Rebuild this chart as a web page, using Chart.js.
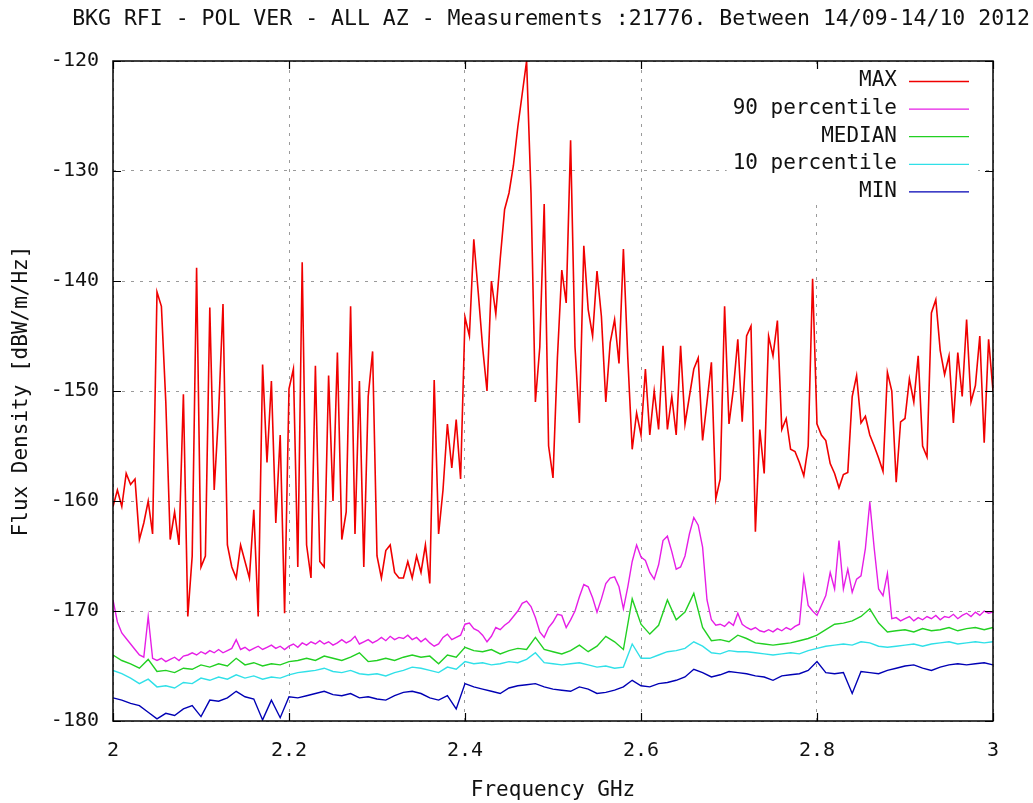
<!DOCTYPE html>
<html>
<head>
<meta charset="utf-8">
<title>BKG RFI - POL VER</title>
<script src="https://cdn.jsdelivr.net/npm/chart.js@4.4.1/dist/chart.umd.min.js"></script>
<style>
  html, body { margin: 0; padding: 0; background: #fff; }
  canvas { display: block; }
</style>
</head>
<body>
<canvas id="rfi" width="1033" height="803"></canvas>
<script>
// spectrum sampled every 5 MHz (MAX, 90 percentile) and every 10 MHz (the rest)
const FINE_START = 2.0, FINE_STEP = 0.005;
const COARSE_START = 2.0, COARSE_STEP = 0.01;

const TITLE = 'BKG RFI - POL VER - ALL AZ - Measurements :21776. Between 14/09-14/10 2012';
const X_LABEL = 'Frequency GHz';
const Y_LABEL = 'Flux Density [dBW/m/Hz]';
const SERIES = ['MAX', '90 percentile', 'MEDIAN', '10 percentile', 'MIN'];
const COLORS = ['#f00000', '#e61ee6', '#22d022', '#30e0e8', '#0000b4'];
const WIDTHS = [1.6, 1.4, 1.4, 1.4, 1.4];
const X_TICKS = [2, 2.2, 2.4, 2.6, 2.8, 3];
const Y_TICKS = [-180, -170, -160, -150, -140, -130, -120];

const maxVals = [
  -160.5, -159, -160.5, -157.5, -158.5, -158, -163.5, -162, -160, -163,
  -141, -142.3, -151, -163.5, -161, -164, -150.3, -170.5, -165, -138.8,
  -166, -165, -142.4, -159, -152, -142.1, -164, -166, -167, -164,
  -165.5, -167, -160.8, -170.5, -147.6, -156.5, -149.1, -162, -154, -170.2,
  -149.8, -148, -166, -138.3, -164, -167, -147.7, -165.5, -166, -148.6,
  -160, -146.5, -163.5, -161, -142.3, -163, -149.1, -166, -150.5, -146.4,
  -165, -167, -164.5, -164, -166.5, -167, -167, -165.5, -167, -165,
  -166.5, -164, -167.5, -149, -163, -159, -153, -157, -152.6, -158,
  -143.3, -145, -136.2, -141, -146, -150, -140, -143, -138, -133.5,
  -132, -129.5, -126, -123, -120, -132, -151, -146, -133, -155,
  -157.9, -147, -139, -142, -127.2, -146, -152.9, -136.8, -142.6, -145,
  -139.1, -143.2, -151, -145.6, -143.5, -147.5, -137.1, -147, -155.3, -152,
  -154, -148, -154, -150, -153.5, -145.9, -153.5, -150.5, -154, -145.9,
  -153, -150.5, -148, -147, -154.5, -151, -147.4, -159.8, -158, -142.3,
  -153, -149.8, -145.3, -152.8, -145, -144.1, -162.8, -153.5, -157.5, -145,
  -146.8, -143.6, -153.5, -152.5, -155.3, -155.5, -156.5, -157.7, -155, -139.8,
  -153, -154, -154.5, -156.6, -157.5, -158.8, -157.6, -157.4, -150.5, -148.6,
  -152.9, -152.3, -154, -155, -156.1, -157.3, -148.3, -150, -158.3, -152.8,
  -152.5, -148.9, -151, -146.8, -155, -156, -142.9, -141.7, -146.3, -148.5,
  -146.8, -152.9, -146.5, -150.5, -143.5, -151, -149.5, -145, -154.7, -145.3,
  -150
];

const p90Vals = [
  -169, -171, -172, -172.5, -173, -173.5, -174, -174.2, -170.5, -174.3,
  -174.5, -174.3, -174.6, -174.4, -174.2, -174.5, -174.1, -174, -173.8, -174,
  -173.7, -173.9, -173.6, -173.8, -173.5, -173.8, -173.6, -173.4, -172.6, -173.5,
  -173.3, -173.6, -173.4, -173.2, -173.5, -173.3, -173.1, -173.4, -173.2, -173.5,
  -173.2, -173, -173.3, -172.9, -173.1, -172.8, -173, -172.7, -173, -172.8,
  -173.1, -172.9, -172.6, -172.9, -172.7, -172.3, -173, -172.8, -172.6, -172.9,
  -172.7, -172.4, -172.7, -172.3, -172.6, -172.4, -172.5, -172.2, -172.6, -172.4,
  -172.8, -172.5, -172.9, -173.2, -173, -172.4, -172.1, -172.6, -172.4, -172.2,
  -171.2, -171.1, -171.6, -171.8, -172.2, -172.8, -172.3, -171.5, -171.7, -171.3,
  -171, -170.5, -170, -169.3, -169.1, -169.6, -170.6, -171.9, -172.4, -171.5,
  -171, -170.3, -170.4, -171.5, -170.8, -170, -168.7, -167.6, -167.8, -168.8,
  -170.1, -168.9, -167.5, -167, -166.9, -167.8, -169.8, -167.8, -165.5, -164,
  -165.1, -165.4, -166.5, -167.1, -165.8, -163.6, -163.2, -164.6, -166.2, -166,
  -165, -163, -161.5, -162.2, -164.2, -169, -170.8, -171.3, -171.2, -171.4,
  -171, -171.3, -170.2, -171.2, -171.5, -171.7, -171.5, -171.8, -171.9, -171.7,
  -171.9, -171.6, -171.8, -171.5, -171.7, -171.4, -171.2, -166.9, -169.5, -170,
  -170.4, -169.5, -168.6, -166.5, -168, -163.6, -168, -166.2, -168.3, -167.1,
  -166.8, -164.3, -160.1, -164.3, -168, -168.6, -166.6, -170.7, -170.6, -170.9,
  -170.7, -170.5, -170.9, -170.6, -170.8, -170.5, -170.7, -170.4, -170.8, -170.5,
  -170.6, -170.3, -170.7, -170.4, -170.2, -170.5, -170.1, -170.4, -170, -170.2,
  -170.1
];

const medianVals = [
  -174.0, -174.5, -174.8, -175.2, -174.4, -175.5, -175.4, -175.6, -175.2, -175.3,
  -174.9, -175.1, -174.8, -175.0, -174.3, -174.9, -174.7, -175.0, -174.8, -174.9,
  -174.6, -174.5, -174.3, -174.5, -174.1, -174.3, -174.5, -174.2, -173.8, -174.6,
  -174.5, -174.3, -174.5, -174.2, -174.0, -174.2, -174.1, -174.8, -174.0, -174.2,
  -173.3, -173.6, -173.7, -173.5, -173.9, -173.6, -173.4, -173.5, -172.4, -173.5,
  -173.7, -173.9, -173.6, -173.1, -173.7, -173.2, -172.3, -172.8, -173.5, -168.9,
  -171.2, -172.1, -171.3, -169.0, -170.8, -170.1, -168.4, -171.5, -172.7, -172.6,
  -172.8, -172.2, -172.5, -172.9, -173.0, -173.1, -173.0, -172.9, -172.7, -172.5,
  -172.2, -171.7, -171.2, -171.1, -170.9, -170.5, -169.8, -171.1, -171.9, -171.8,
  -171.7, -171.9, -171.6, -171.8, -171.7, -171.5, -171.8, -171.6, -171.5, -171.7,
  -171.5
];

const p10Vals = [
  -175.4, -175.7, -176.1, -176.6, -176.2, -176.9, -176.8, -177.0, -176.5, -176.6,
  -176.1, -176.3, -176.0, -176.2, -175.8, -176.1, -175.9, -176.2, -176.0, -176.1,
  -175.8, -175.6, -175.5, -175.4, -175.2, -175.5, -175.6, -175.4, -175.7, -175.8,
  -175.7, -175.9, -175.6, -175.4, -175.1, -175.2, -175.4, -175.6, -175.1, -175.3,
  -174.6, -174.8, -174.7, -174.9, -174.8, -174.6, -174.7, -174.4, -173.8, -174.7,
  -174.8, -174.9, -174.8, -174.7, -174.9, -175.1, -175.0, -175.2, -175.1, -173.0,
  -174.3, -174.3, -174.0, -173.7, -173.6, -173.4, -172.8, -173.2, -173.8, -173.9,
  -173.6, -173.7, -173.7, -173.8, -173.9, -174.0, -173.9, -173.8, -173.9, -173.6,
  -173.4, -173.2, -173.1, -173.0, -173.1, -172.8, -172.9, -173.2, -173.3, -173.2,
  -173.1, -173.0, -173.2, -173.0, -172.9, -172.8, -173.0, -172.9, -172.8, -172.9,
  -172.8
];

const minVals = [
  -177.9, -178.1, -178.4, -178.6, -179.2, -179.8, -179.3, -179.5, -178.9, -178.6,
  -179.6, -178.1, -178.2, -177.9, -177.3, -177.8, -178.0, -179.9, -178.1, -179.7,
  -177.8, -177.9, -177.7, -177.5, -177.3, -177.6, -177.7, -177.5, -177.9, -177.8,
  -178.0, -178.1, -177.7, -177.4, -177.3, -177.5, -177.9, -178.1, -177.7, -178.9,
  -176.6, -176.9, -177.1, -177.3, -177.5, -177.0, -176.8, -176.7, -176.6, -176.9,
  -177.1, -177.2, -177.3, -176.9, -177.1, -177.5, -177.4, -177.2, -176.9, -176.3,
  -176.8, -176.9, -176.6, -176.5, -176.3, -176.0, -175.3, -175.6, -176.0, -175.8,
  -175.5, -175.6, -175.7, -175.9, -176.0, -176.3, -175.9, -175.8, -175.7, -175.4,
  -174.6, -175.6, -175.7, -175.6, -177.5, -175.5, -175.6, -175.7, -175.4, -175.2,
  -175.0, -174.9, -175.2, -175.4, -175.1, -174.9, -174.8, -174.9, -174.8, -174.7,
  -174.9
];

const FONT_FAMILY = '"DejaVu Sans Mono", "Liberation Mono", monospace';
const TEXT = '#111';

function toPoints(vals, start, step) {
  return vals.map((v, i) => ({ x: +(start + i * step).toFixed(3), y: v }));
}

const seriesData = [
  toPoints(maxVals, FINE_START, FINE_STEP),
  toPoints(p90Vals, FINE_START, FINE_STEP),
  toPoints(medianVals, COARSE_START, COARSE_STEP),
  toPoints(p10Vals, COARSE_START, COARSE_STEP),
  toPoints(minVals, COARSE_START, COARSE_STEP)
];

// gnuplot style: title, opaque key box, black border with inward ticks
const gnuplotFrame = {
  id: 'gnuplotFrame',
  afterDatasetsDraw(chart) {
    const { ctx, chartArea: a, scales } = chart;
    ctx.save();

    // title
    ctx.font = '21.5px ' + FONT_FAMILY;
    ctx.fillStyle = TEXT;
    ctx.textAlign = 'right';
    ctx.textBaseline = 'middle';
    ctx.fillText(TITLE, 1030, 19);

    // key
    ctx.font = '21px ' + FONT_FAMILY;
    const textRight = 897, lineX0 = 909, lineX1 = 969, rowTop = 81, rowStep = 27.6;
    let w = 0;
    chart.data.datasets.forEach(d => { w = Math.max(w, ctx.measureText(d.label).width); });
    const boxLeft = textRight - w - 6;
    ctx.fillStyle = '#fff';
    ctx.fillRect(boxLeft, rowTop - 13, lineX1 + 9 - boxLeft, rowStep * 4 + 26);
    chart.data.datasets.forEach((d, i) => {
      const yy = rowTop + i * rowStep;
      ctx.fillStyle = TEXT;
      ctx.textAlign = 'right';
      ctx.fillText(d.label, textRight, yy);
      ctx.strokeStyle = d.borderColor;
      ctx.lineWidth = 1.3;
      ctx.beginPath();
      ctx.moveTo(lineX0, yy + 0.5);
      ctx.lineTo(lineX1, yy + 0.5);
      ctx.stroke();
    });

    // border
    ctx.strokeStyle = '#000';
    ctx.lineWidth = 1.5;
    ctx.strokeRect(a.left, a.top, a.right - a.left, a.bottom - a.top);

    // inward ticks on all four sides
    const tl = 8;
    ctx.lineWidth = 1.2;
    ctx.beginPath();
    X_TICKS.forEach(t => {
      const px = Math.round(scales.x.getPixelForValue(t)) + 0.5;
      ctx.moveTo(px, a.bottom); ctx.lineTo(px, a.bottom - tl);
      ctx.moveTo(px, a.top); ctx.lineTo(px, a.top + tl);
    });
    Y_TICKS.forEach(t => {
      const py = Math.round(scales.y.getPixelForValue(t)) + 0.5;
      ctx.moveTo(a.left, py); ctx.lineTo(a.left + tl, py);
      ctx.moveTo(a.right, py); ctx.lineTo(a.right - tl, py);
    });
    ctx.stroke();
    ctx.restore();
  }
};

new Chart(document.getElementById('rfi'), {
  type: 'line',
  data: {
    datasets: SERIES.map((name, i) => ({
      label: name,
      data: seriesData[i],
      borderColor: COLORS[i],
      backgroundColor: COLORS[i],
      borderWidth: WIDTHS[i],
      pointRadius: 0,
      tension: 0,
      fill: false
    }))
  },
  options: {
    responsive: false,
    animation: false,
    layout: { padding: { top: 61, right: 40, left: 0, bottom: 0 } },
    plugins: {
      legend: { display: false },
      title: { display: false },
      tooltip: { enabled: false }
    },
    scales: {
      x: {
        type: 'linear',
        min: 2,
        max: 3,
        afterFit: s => { s.height = 82; },
        ticks: {
          stepSize: 0.2,
          padding: 18,
          color: TEXT,
          font: { family: FONT_FAMILY, size: 20 },
          maxRotation: 0,
          callback: v => String(+v.toFixed(1))
        },
        grid: { color: '#9a9a9a', lineWidth: 1, drawTicks: false },
        border: { display: false, dash: [3, 6] },
        title: {
          display: true,
          text: X_LABEL,
          color: TEXT,
          font: { family: FONT_FAMILY, size: 21 },
          padding: { top: 0, bottom: 0 }
        }
      },
      y: {
        min: -180,
        max: -120,
        afterFit: s => { s.width = 113; },
        ticks: {
          stepSize: 10,
          padding: 14,
          color: TEXT,
          font: { family: FONT_FAMILY, size: 20 }
        },
        grid: { color: '#9a9a9a', lineWidth: 1, drawTicks: false },
        border: { display: false, dash: [3, 6] },
        title: {
          display: true,
          text: Y_LABEL,
          color: TEXT,
          font: { family: FONT_FAMILY, size: 21 },
          padding: { top: 9, bottom: 0 }
        }
      }
    }
  },
  plugins: [gnuplotFrame]
});
</script>
</body>
</html>
